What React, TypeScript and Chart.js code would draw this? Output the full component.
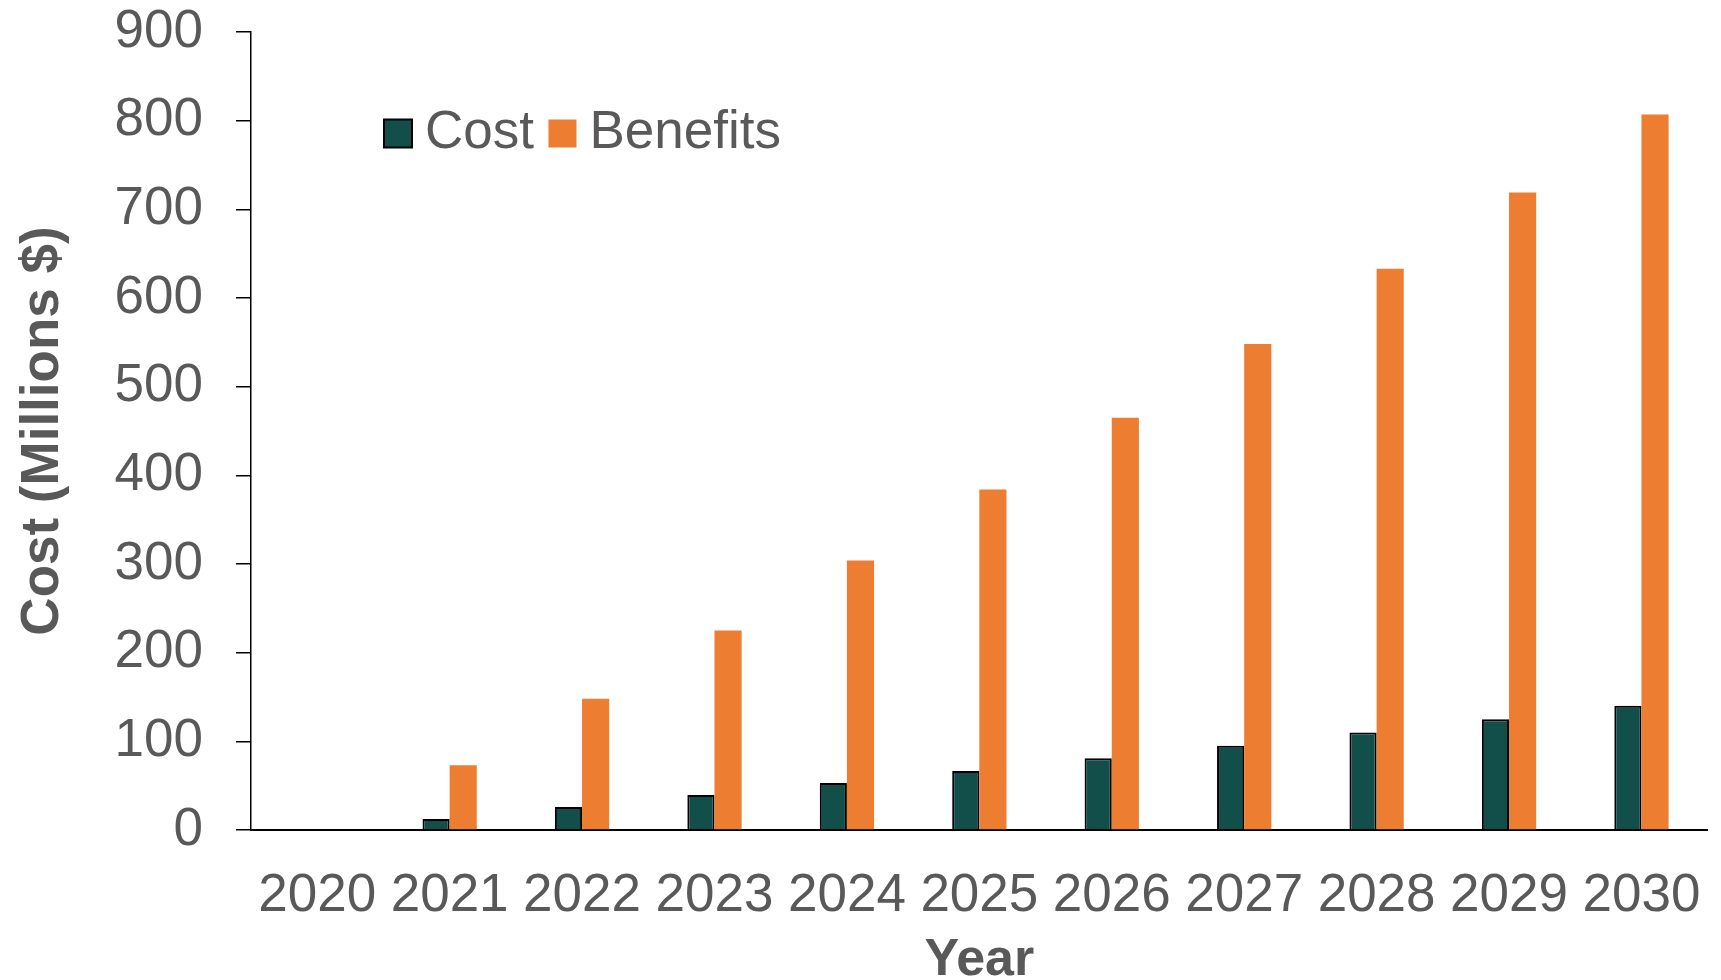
import React, { useEffect, useRef } from 'react';
import { Chart, registerables } from 'chart.js';

Chart.register(...registerables);

const years = ['2020', '2021', '2022', '2023', '2024', '2025', '2026', '2027', '2028', '2029', '2030'];
const costValues = [0, 12.5, 26, 39.5, 53, 66.5, 81, 95, 110, 125, 140];
const benefitValues = [0, 73, 148, 225, 304, 384, 465, 548, 633, 719, 807];
const yMin = 0;
const yMax = 900;
const yStep = 100;

const FONT = '"Liberation Sans", Arial, Helvetica, sans-serif';
const TEXT = '#595959';
const COST_COLOR = '#124F4B';
const BENEFIT_COLOR = '#ED7D31';

export default function App() {
  const ref = useRef<HTMLCanvasElement>(null);

  useEffect(() => {
    document.body.style.margin = '0';
    const legendPlacer = {
      id: 'legendPlacer',
      afterLayout(chart: any) {
        const lg = chart.legend;
        if (!lg) return;
        const pad = 28;
        lg.left = 397.5 - pad;
        lg.top = 107 - pad;
        lg.width = 700;
        lg.height = 150;
        lg.right = lg.left + lg.width;
        lg.bottom = lg.top + lg.height;
      },
    };

    const chart = new Chart(ref.current as HTMLCanvasElement, {
      type: 'bar',
      data: {
        labels: years,
        datasets: [
          {
            label: 'Cost',
            data: costValues,
            backgroundColor: COST_COLOR,
            borderColor: '#000000',
            borderWidth: 2,
            categoryPercentage: 0.41,
            barPercentage: 1,
          },
          {
            label: 'Benefits',
            data: benefitValues,
            backgroundColor: BENEFIT_COLOR,
            borderColor: BENEFIT_COLOR,
            borderWidth: 0,
            categoryPercentage: 0.41,
            barPercentage: 1,
          },
        ],
      },
      options: {
        responsive: false,
        animation: false,
        devicePixelRatio: 1,
        layout: { padding: { top: 31, right: 13, bottom: 0, left: 0 } },
        plugins: {
          legend: {
            position: 'top',
            align: 'start',
            maxHeight: 1,
            labels: {
              usePointStyle: true,
              pointStyle: 'rect',
              boxWidth: 1,
              boxHeight: 28,
              padding: 28,
              color: TEXT,
              font: { family: FONT, size: 53 },
            },
          },
          tooltip: { enabled: false },
        },
        scales: {
          x: {
            grid: { display: true, drawOnChartArea: false, drawTicks: false },
            border: { display: true, color: '#000000', width: 2 },
            ticks: {
              color: TEXT,
              font: { family: FONT, size: 53, lineHeight: 1.75 },
              padding: 20,
              maxRotation: 0,
              autoSkip: false,
            },
            title: {
              display: true,
              text: 'Year',
              color: TEXT,
              font: { family: FONT, size: 52, weight: 'bold', lineHeight: 0.75 },
              padding: { top: 0, bottom: 0 },
            },
            afterFit: (s: any) => {
              s.height = 150;
            },
          },
          y: {
            min: yMin,
            max: yMax,
            ticks: {
              stepSize: yStep,
              color: TEXT,
              font: { family: FONT, size: 53 },
              padding: 33,
            },
            grid: {
              drawOnChartArea: false,
              drawTicks: true,
              tickLength: 15,
              color: '#000000',
              lineWidth: 1.5,
            },
            border: { display: true, color: '#000000', width: 1.5 },
            title: {
              display: true,
              text: 'Cost (Millions $)',
              color: TEXT,
              font: { family: FONT, size: 53, weight: 'bold', lineHeight: 1 },
              padding: { top: 17, bottom: 0 },
            },
            afterFit: (s: any) => {
              s.width = 251;
              s.paddingTop = 0;
              s.paddingBottom = 0;
            },
          },
        },
      },
      plugins: [legendPlacer],
    });
    return () => chart.destroy();
  }, []);

  return <canvas ref={ref} width={1721} height={980} style={{ display: 'block' }} />;
}
